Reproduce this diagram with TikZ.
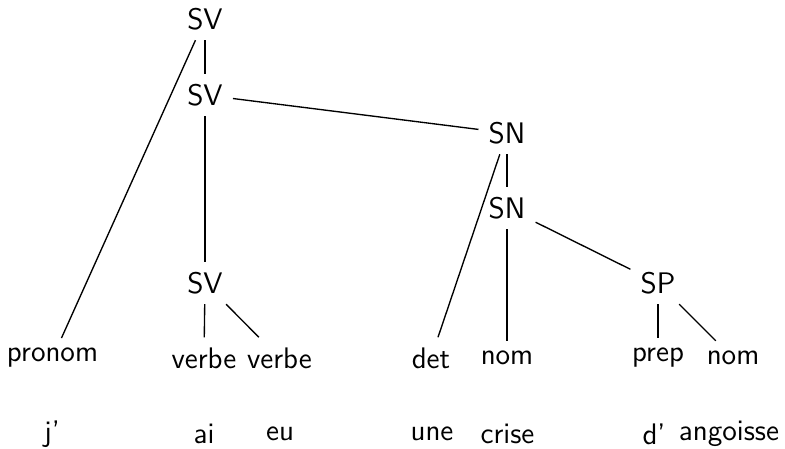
\documentclass[tikz,border=0pt]{standalone}
\usepackage{tikz}
\begin{document}
\begin{tikzpicture}[x=0.37pt,y=-0.37pt,
  every node/.style={font=\fontsize{11}{13}\selectfont\sffamily, inner sep=3.6pt},
  branch/.style={line width=0.5pt}]
\useasboundingbox (0,0) rectangle (785,448);
% phrase nodes
\node (sv1) at (205,19) {SV};
\node (sv2) at (205,95) {SV};
\node (sn1) at (507,133) {SN};
\node (sn2) at (507,208) {SN};
\node (sv3) at (205,283) {SV};
\node (sp)  at (658,283) {SP};
% categories
\node (pronom) at (52.5,358) {pronom};
\node (verbe1) at (204,358) {verbe};
\node (verbe2) at (279.5,358) {verbe};
\node (det)    at (431,358) {det};
\node (nom1)   at (507,358) {nom};
\node (prep)   at (658,358) {prep};
\node (nom2)   at (733,358) {nom};
% words
\node (w1) at (52,434) {j'};
\node (w2) at (204,434) {ai};
\node (w3) at (280,434) {eu};
\node (w4) at (432,434) {une};
\node (w5) at (507.5,434) {crise};
\node (w6) at (654,434) {d'};
\node (w7) at (729,434) {angoisse};
% branches
\draw[branch] (sv1) -- (pronom);
\draw[branch] (sv1) -- (sv2);
\draw[branch] (sv2) -- (sv3);
\draw[branch] (sv2) -- (sn1);
\draw[branch] (sv3) -- (verbe1);
\draw[branch] (sv3) -- (verbe2);
\draw[branch] (sn1) -- (det);
\draw[branch] (sn1) -- (sn2);
\draw[branch] (sn2) -- (nom1);
\draw[branch] (sn2) -- (sp);
\draw[branch] (sp) -- (prep);
\draw[branch] (sp) -- (nom2);
\end{tikzpicture}
\end{document}
